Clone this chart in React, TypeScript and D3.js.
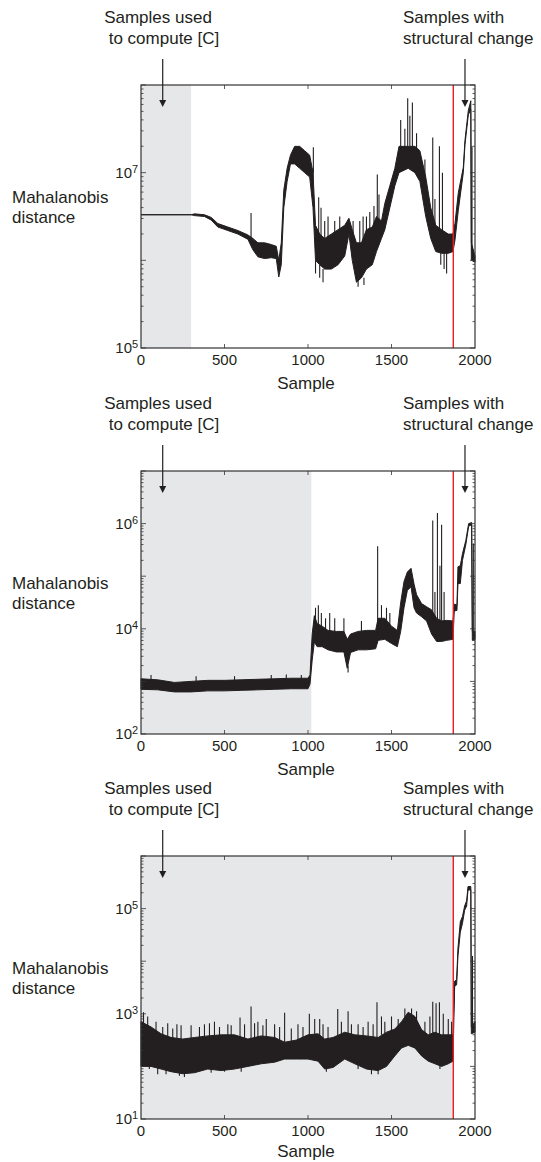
import * as d3 from "d3";

const W = 541;
const H = 1162;
const font = "'Liberation Sans', Arial, Helvetica, sans-serif";
const ink = "#231f20";

// sample axis
const xTicks = [0, 500, 1000, 1500, 2000];
const changeAt = 1870; // red line

// each panel: sample positions, band low/high as log10 of the distance,
// spikes as [sample, base log10, tip log10]
const p1S = [0, 300, 320, 380, 420, 460, 520, 580, 640, 670, 700, 740, 780, 810, 825, 840, 855, 875, 895, 920, 950, 980, 1010, 1030, 1045, 1070, 1100, 1140, 1180, 1220, 1245, 1265, 1290, 1320, 1350, 1385, 1410, 1440, 1460, 1490, 1520, 1545, 1600, 1640, 1670, 1705, 1735, 1765, 1800, 1840, 1868, 1880, 1900, 1930, 1940, 1960, 1975, 1978, 2000];
const p1Lo = [6.52, 6.52, 6.51, 6.5, 6.46, 6.38, 6.34, 6.3, 6.24, 6.12, 6.04, 6.02, 6.03, 6.02, 5.81, 5.95, 6.6, 6.9, 7.1, 7.1, 7.05, 7.0, 6.95, 6.6, 6.0, 5.95, 5.9, 5.9, 5.95, 6.05, 6.3, 6.0, 5.75, 5.8, 5.9, 5.95, 6.1, 6.25, 6.35, 6.6, 6.85, 7.0, 7.05, 7.0, 6.9, 6.5, 6.25, 6.1, 6.08, 6.08, 6.1, 6.23, 6.57, 7.0, 7.32, 7.66, 7.72, 6.0, 5.98];
const p1Hi = [6.52, 6.52, 6.53, 6.52, 6.49, 6.42, 6.38, 6.34, 6.29, 6.25, 6.2, 6.2, 6.18, 6.16, 6.0, 6.2, 6.8, 7.05, 7.2, 7.3, 7.3, 7.25, 7.2, 7.0, 6.4, 6.3, 6.25, 6.3, 6.35, 6.4, 6.48, 6.35, 6.2, 6.2, 6.35, 6.38, 6.5, 6.45, 6.65, 6.85, 7.05, 7.3, 7.3, 7.3, 7.25, 6.95, 6.6, 6.4, 6.35, 6.3, 6.3, 6.42, 6.77, 7.06, 7.37, 7.71, 7.82, 6.2, 6.05];
const p1Spikes = [[659, 6.25, 6.54], [1030, 6.9, 7.05], [1032, 7.0, 7.29], [1064, 6.2, 6.72], [1078, 6.2, 6.6], [1100, 6.2, 6.45], [1120, 6.25, 6.5], [1160, 6.3, 6.45], [1190, 6.3, 6.5], [1045, 6.0, 5.85], [1070, 5.95, 5.8], [1090, 5.9, 5.75], [1270, 6.3, 6.45], [1300, 5.8, 5.7], [1310, 6.15, 6.45], [1330, 6.2, 6.5], [1335, 5.8, 5.72], [1350, 6.3, 6.5], [1370, 6.35, 6.55], [1395, 6.35, 6.62], [1415, 6.4, 6.98], [1425, 6.45, 6.75], [1555, 7.2, 7.6], [1580, 7.25, 7.5], [1597, 7.3, 7.85], [1610, 7.3, 7.65], [1625, 7.3, 7.8], [1650, 7.25, 7.45], [1700, 6.9, 7.15], [1747, 6.35, 7.4], [1760, 6.35, 6.7], [1787, 6.3, 7.3], [1805, 6.3, 7.0], [1795, 6.1, 5.95], [1815, 6.1, 5.9], [1830, 6.1, 5.85], [1982, 6.1, 7.3]];

const p2S = [0, 100, 200, 300, 400, 500, 600, 700, 800, 900, 1000, 1012, 1025, 1038, 1055, 1085, 1120, 1170, 1215, 1235, 1255, 1300, 1350, 1405, 1420, 1460, 1500, 1535, 1555, 1575, 1595, 1617, 1635, 1650, 1680, 1710, 1740, 1770, 1800, 1830, 1868, 1876, 1892, 1898, 1912, 1925, 1945, 1962, 1980, 1984, 2000];
const p2Lo = [2.85, 2.84, 2.8, 2.8, 2.82, 2.82, 2.83, 2.84, 2.85, 2.86, 2.86, 2.95, 3.4, 3.75, 3.66, 3.66, 3.6, 3.56, 3.56, 3.25, 3.55, 3.6, 3.6, 3.62, 3.78, 3.8, 3.72, 3.66, 3.95, 4.4, 4.73, 4.8, 4.4, 4.3, 4.23, 4.15, 3.9, 3.76, 3.76, 3.78, 3.8, 4.34, 4.35, 4.86, 4.86, 5.3, 5.6, 5.95, 5.98, 3.78, 3.8];
const p2Hi = [3.05, 3.03, 2.98, 3.0, 3.02, 3.02, 3.03, 3.04, 3.05, 3.06, 3.06, 3.12, 3.9, 4.25, 4.1, 4.05, 3.97, 3.95, 3.95, 3.8, 3.9, 3.95, 3.97, 3.97, 4.2, 4.2, 4.05, 3.97, 4.5, 4.9, 5.08, 5.15, 4.85, 4.65, 4.48, 4.42, 4.36, 4.2, 4.15, 4.16, 4.15, 4.47, 4.45, 5.18, 5.2, 5.43, 5.68, 6.0, 6.02, 3.95, 3.95];
const p2Spikes = [[60, 3.0, 3.12], [330, 3.0, 3.1], [560, 3.0, 3.1], [780, 3.0, 3.12], [870, 3.0, 3.13], [960, 3.0, 3.12], [1045, 3.9, 4.4], [1062, 3.9, 4.45], [1080, 3.9, 4.3], [1105, 3.85, 4.2], [1130, 3.8, 4.3], [1160, 3.8, 4.2], [1215, 3.8, 4.2], [1240, 3.3, 3.17], [1320, 3.8, 4.15], [1417, 3.9, 5.57], [1440, 4.0, 4.45], [1470, 4.0, 4.4], [1490, 4.0, 4.3], [1747, 4.2, 6.06], [1760, 4.1, 4.7], [1775, 4.1, 6.2], [1790, 4.1, 5.2], [1800, 4.1, 5.98], [1815, 4.1, 4.7], [1990, 3.9, 5.62]];

const p3S = [0, 60, 120, 180, 250, 320, 400, 480, 560, 640, 720, 800, 860, 930, 1000, 1060, 1100, 1150, 1220, 1280, 1350, 1420, 1470, 1520, 1560, 1600, 1640, 1680, 1720, 1760, 1800, 1840, 1868, 1878, 1890, 1898, 1912, 1925, 1938, 1950, 1958, 1975, 1978, 2000];
const p3Lo = [2.0, 2.0, 1.95, 1.9, 1.86, 1.88, 1.95, 1.92, 1.95, 2.0, 2.05, 2.08, 2.14, 2.14, 2.14, 2.1, 1.95, 1.98, 2.14, 2.05, 1.95, 1.92, 2.0, 2.2, 2.35, 2.4, 2.35, 2.2, 2.1, 2.05, 2.0, 2.05, 2.1, 3.52, 3.55, 4.1, 4.55, 4.72, 4.97, 5.05, 5.35, 5.36, 2.62, 2.65];
const p3Hi = [2.85, 2.75, 2.62, 2.55, 2.52, 2.55, 2.58, 2.6, 2.6, 2.52, 2.58, 2.55, 2.46, 2.5, 2.6, 2.62, 2.52, 2.55, 2.65, 2.6, 2.58, 2.55, 2.65, 2.71, 2.85, 3.03, 2.95, 2.7, 2.6, 2.65, 2.6, 2.6, 2.6, 3.62, 3.65, 4.25, 4.75, 4.85, 5.05, 5.15, 5.42, 5.42, 2.75, 2.85];
const p3Spikes = [[15, 2.7, 3.03], [40, 2.6, 2.95], [90, 2.6, 2.85], [130, 2.5, 2.75], [160, 2.5, 2.82], [190, 2.45, 2.72], [215, 2.5, 2.8], [240, 2.45, 2.78], [300, 2.5, 2.78], [350, 2.45, 2.75], [380, 2.5, 2.8], [410, 2.5, 2.82], [440, 2.5, 2.85], [470, 2.5, 2.75], [520, 2.5, 2.8], [540, 2.5, 2.78], [593, 2.5, 2.93], [620, 2.45, 2.8], [659, 2.5, 3.14], [680, 2.5, 2.82], [700, 2.5, 2.85], [730, 2.5, 2.78], [750, 2.5, 2.9], [800, 2.5, 2.8], [830, 2.45, 2.75], [860, 2.45, 3.02], [900, 2.45, 2.72], [940, 2.5, 2.8], [970, 2.5, 2.75], [1008, 2.55, 3.0], [1040, 2.55, 2.9], [1070, 2.5, 2.9], [1090, 2.45, 2.8], [1120, 2.45, 2.75], [1178, 2.5, 3.09], [1200, 2.5, 2.85], [1240, 2.55, 3.05], [1260, 2.5, 2.8], [1300, 2.5, 2.8], [1330, 2.5, 2.75], [1360, 2.5, 2.85], [1390, 2.5, 2.8], [1413, 2.5, 3.22], [1440, 2.6, 2.95], [1460, 2.55, 2.85], [1500, 2.65, 2.95], [1540, 2.7, 2.9], [1580, 2.9, 3.1], [1620, 2.9, 3.1], [1650, 2.85, 3.05], [1700, 2.6, 2.85], [1730, 2.6, 2.95], [1747, 2.6, 3.23], [1767, 2.6, 3.2], [1787, 2.6, 3.22], [1810, 2.6, 3.0], [1840, 2.55, 2.9], [1860, 2.55, 2.85], [50, 2.1, 1.95], [100, 2.0, 1.85], [150, 2.0, 1.85], [230, 1.95, 1.82], [260, 1.9, 1.8], [420, 2.0, 1.88], [500, 2.0, 1.9], [600, 2.0, 1.9], [1110, 2.0, 1.9], [1300, 2.1, 1.95], [1380, 1.95, 1.85], [1420, 1.95, 1.85], [1790, 2.05, 1.95], [1985, 2.7, 4.1]];

const panels = [
  { top: 85, domain: [1e5, 1e8], labels: [5, 7], shadeTo: 300, s: p1S, lo: p1Lo, hi: p1Hi, spikes: p1Spikes },
  { top: 471, domain: [1e2, 1e7], labels: [2, 4, 6], shadeTo: 1020, s: p2S, lo: p2Lo, hi: p2Hi, spikes: p2Spikes },
  { top: 856, domain: [1e1, 1e6], labels: [1, 3, 5], shadeTo: 1870, s: p3S, lo: p3Lo, hi: p3Hi, spikes: p3Spikes },
];

const plotH = 263;
const x = d3.scaleLinear().domain([0, 2000]).range([141, 475]);

function Panel({ p }: { p: any }) {
  const top = p.top;
  const bottom = top + plotH;
  const y = d3.scaleLog().domain(p.domain).range([bottom, top]);
  const idx = d3.range(p.s.length);
  const band = d3
    .area<number>()
    .x((i) => x(p.s[i]))
    .y0((i) => y(10 ** p.lo[i]))
    .y1((i) => y(10 ** p.hi[i]));

  const yTicks = y.ticks();
  const [x0, x1] = x.range();

  return (
    <g>
      <rect x={x0} y={top} width={x(p.shadeTo) - x0} height={plotH} fill="#e6e7e8" />
      <path d={band(idx) || ""} fill={ink} stroke={ink} strokeWidth={1} />
      {p.spikes.map((d: number[], i: number) => (
        <line key={i} x1={x(d[0])} x2={x(d[0])} y1={y(10 ** d[1])} y2={y(10 ** d[2])} stroke={ink} strokeWidth={1.1} />
      ))}
      <line x1={x(changeAt)} x2={x(changeAt)} y1={top} y2={bottom} stroke="#ed1c24" strokeWidth={1.4} />
      <rect x={x0} y={top} width={x1 - x0} height={plotH} fill="none" stroke="#333" strokeWidth={1.2} />
      {yTicks.map((t, i) => {
        const major = Math.abs(Math.log10(t) - Math.round(Math.log10(t))) < 1e-9;
        const len = major ? 5 : 2.5;
        const ty = y(t);
        return (
          <g key={i} stroke="#333" strokeWidth={0.8}>
            <line x1={x0} x2={x0 + len} y1={ty} y2={ty} />
            <line x1={x1} x2={x1 - len} y1={ty} y2={ty} />
          </g>
        );
      })}
      {xTicks.slice(1, -1).map((t) => (
        <g key={t} stroke="#333" strokeWidth={0.8}>
          <line x1={x(t)} x2={x(t)} y1={bottom} y2={bottom - 4} />
          <line x1={x(t)} x2={x(t)} y1={top} y2={top + 4} />
        </g>
      ))}
      {xTicks.map((t) => (
        <text key={t} x={x(t)} y={bottom + 17} textAnchor="middle" fontSize={15} fill={ink}>
          {t}
        </text>
      ))}
      {p.labels.map((e: number) => (
        <g key={e} fill={ink}>
          <text x={132} y={y(10 ** e) + 5} textAnchor="end" fontSize={15}>10</text>
          <text x={132} y={y(10 ** e)} fontSize={11}>{e}</text>
        </g>
      ))}
      <text x={(x0 + x1) / 2 - 2} y={Math.min(bottom + 41, H - 5)} textAnchor="middle" fontSize={17} fill={ink}>Sample</text>
      <text x={12} y={top + 118} fontSize={17} fill={ink}>Mahalanobis</text>
      <text x={12} y={top + 138} fontSize={17} fill={ink}>distance</text>
      <text x={158} y={top - 62} textAnchor="middle" fontSize={17} fill={ink}>Samples used</text>
      <text x={164} y={top - 41} textAnchor="middle" fontSize={17} fill={ink}>to compute [C]</text>
      <text x={403} y={top - 62} fontSize={17} fill={ink}>Samples with</text>
      <text x={403} y={top - 41} fontSize={17} fill={ink}>structural change</text>
      {[130, 1940].map((s) => (
        <g key={s}>
          <line x1={x(s)} x2={x(s)} y1={top - 26} y2={top + 16} stroke={ink} strokeWidth={1.2} />
          <polygon points={`${x(s) - 3.5},${top + 15} ${x(s) + 3.5},${top + 15} ${x(s)},${top + 22}`} fill={ink} />
        </g>
      ))}
    </g>
  );
}

export default function App() {
  return (
    <svg width={W} height={H} style={{ position: "absolute", left: 0, top: 0, background: "#fff" }} fontFamily={font}>
      {panels.map((p, i) => (
        <Panel key={i} p={p} />
      ))}
    </svg>
  );
}
